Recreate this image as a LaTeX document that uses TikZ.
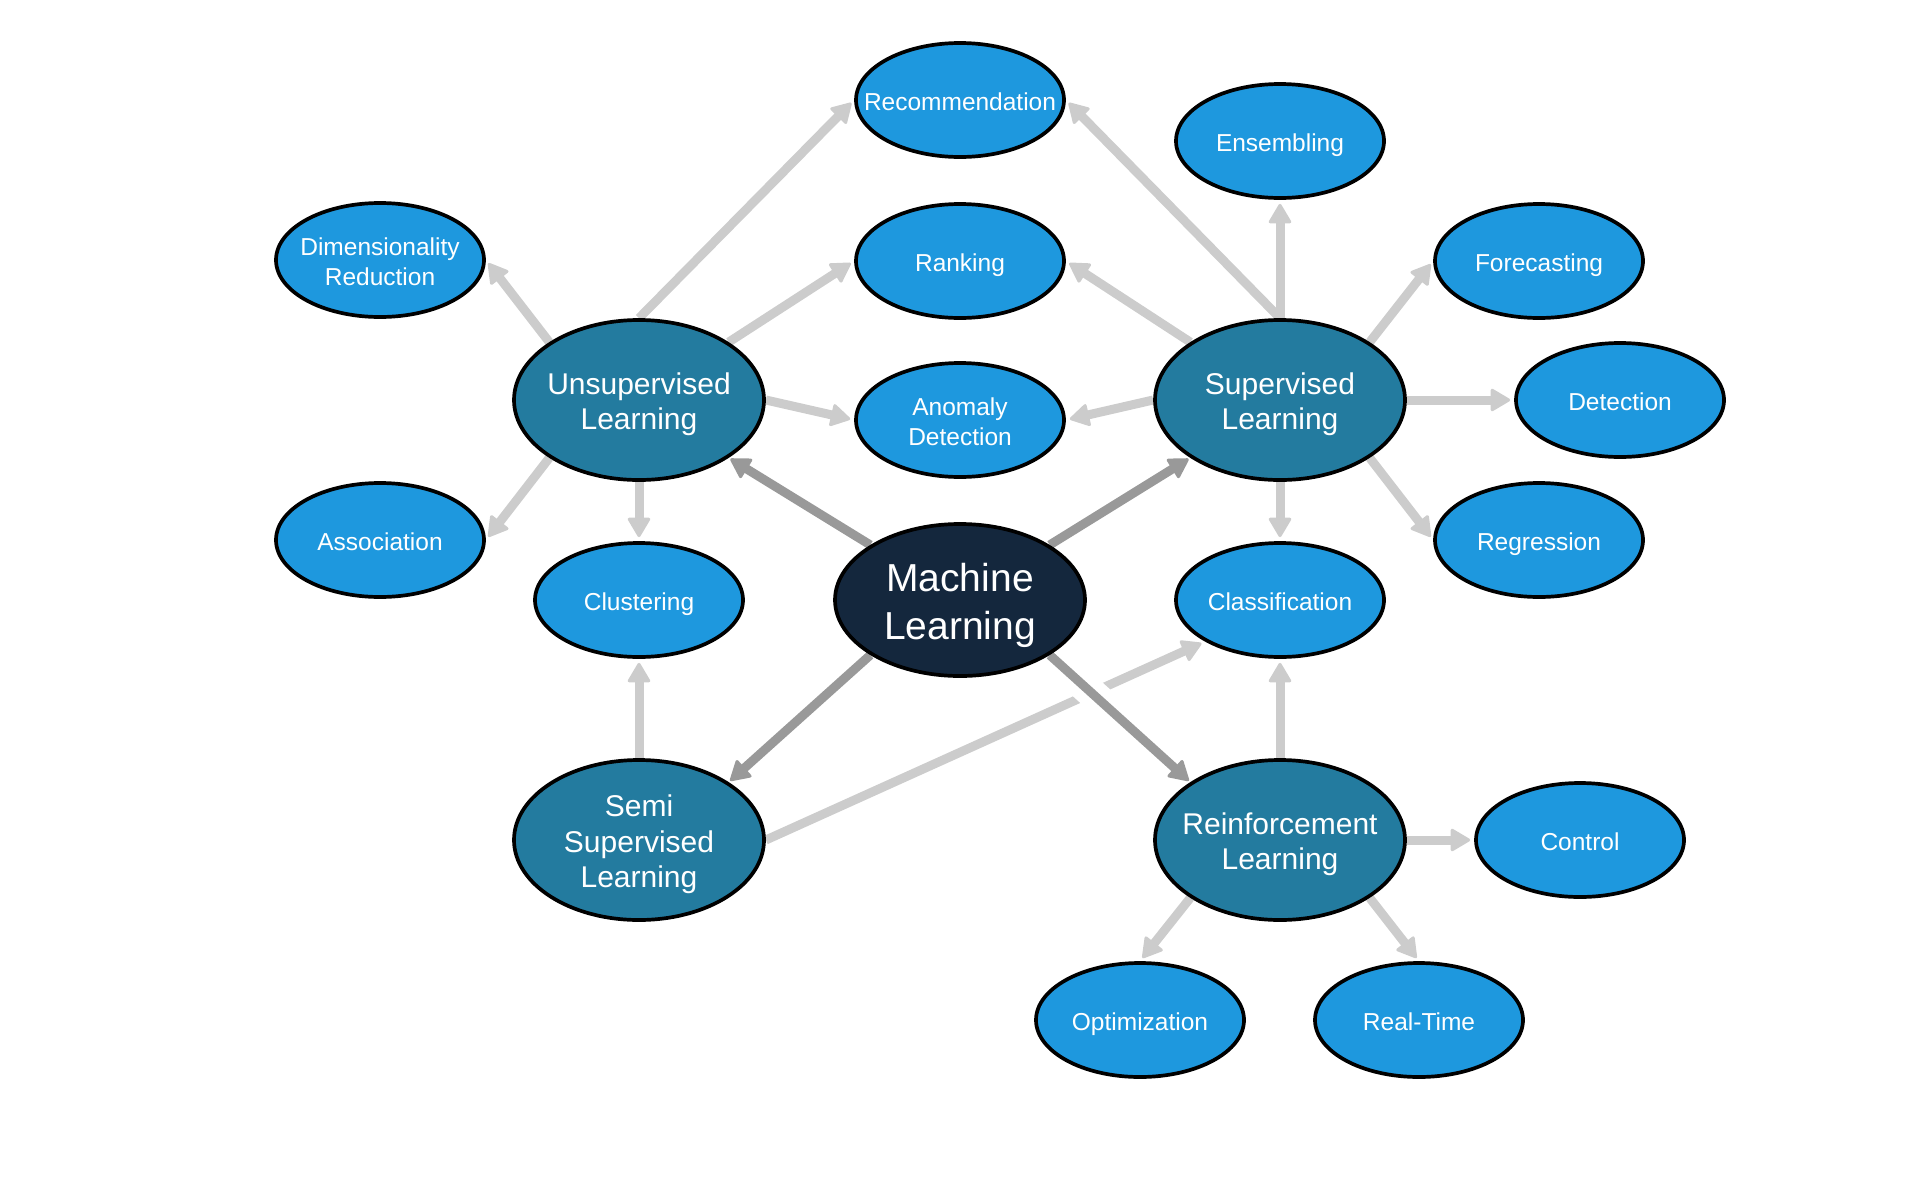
\documentclass[tikz,border=0pt]{standalone}
\usepackage{fontspec}
\setmainfont{Liberation Sans}
\usetikzlibrary{shapes.geometric,arrows.meta,backgrounds}
\definecolor{leafc}{HTML}{1E98DE}
\definecolor{midc}{HTML}{237B9F}
\definecolor{rootc}{HTML}{14273D}
\definecolor{lightedge}{HTML}{CCCCCC}
\definecolor{darkedge}{HTML}{999999}
\newcommand{\nt}[2][4.5pt]{\raisebox{-#1}[\height][\depth]{\begin{tabular}{@{}c@{}}#2\end{tabular}}}
\tikzset{
  base/.style={ellipse, draw=black, line width=3.7pt, text=white, inner xsep=-40pt, inner ysep=0pt, align=center},
  leaf/.style={base, fill=leafc, minimum width=208pt, minimum height=114pt, font=\fontsize{24.5}{29.4}\selectfont},
  mid/.style={base, fill=midc, minimum width=250pt, minimum height=160pt, font=\fontsize{30}{35.5}\selectfont},
  root/.style={base, fill=rootc, minimum width=250pt, minimum height=152pt, font=\fontsize{39}{48}\selectfont},
  ledge/.style={draw=lightedge, line width=9pt, -{Triangle[length=21pt,width=24pt,line width=3pt,round]}, shorten >=4pt},
  dedge/.style={draw=darkedge, line width=9pt, -{Triangle[length=21pt,width=24pt,line width=3pt,round]}, shorten >=2pt},
}
\begin{document}
\begin{tikzpicture}[x=1pt,y=-1pt]
\useasboundingbox (0,0) rectangle (1920,1200);
\node[root] (ML) at (960,600) {\nt[5.5pt]{Machine\\Learning}};
\node[mid] (U) at (639,400) {\nt[5pt]{Unsupervised\\Learning}};
\node[mid] (S) at (1280,400) {\nt[5pt]{Supervised\\Learning}};
\node[mid] (SSL) at (639,840) {\nt[5pt]{Semi\\Supervised\\Learning}};
\node[mid] (RL) at (1280,840) {\nt[5pt]{Reinforcement\\Learning}};
\node[leaf] (Rec) at (960,100) {\nt{Recommendation}};
\node[leaf] (Rank) at (960,261) {\nt{Ranking}};
\node[leaf] (Anom) at (960,420) {\nt{Anomaly\\Detection}};
\node[leaf] (Ens) at (1280,141) {\nt{Ensembling}};
\node[leaf] (Fore) at (1539,261) {\nt{Forecasting}};
\node[leaf] (Det) at (1620,400) {\nt{Detection}};
\node[leaf] (Reg) at (1539,540) {\nt{Regression}};
\node[leaf] (Cls) at (1280,600) {\nt{Classification}};
\node[leaf] (Dim) at (380,260) {\nt{Dimensionality\\Reduction}};
\node[leaf] (Assoc) at (380,540) {\nt{Association}};
\node[leaf] (Clu) at (639,600) {\nt{Clustering}};
\node[leaf] (Ctrl) at (1580,840) {\nt{Control}};
\node[leaf] (Opt) at (1140,1020) {\nt{Optimization}};
\node[leaf] (RT) at (1419,1020) {\nt{Real-Time}};
\begin{scope}[on background layer]
\draw[ledge] (U.north) -- (Rec.west);
\draw[ledge] (U.north east) -- (Rank.west);
\draw[ledge] (U.east) -- (Anom.west);
\draw[ledge] (U.north west) -- (Dim.east);
\draw[ledge] (U.south west) -- (Assoc.east);
\draw[ledge] (U.south) -- (Clu.north);
\draw[ledge] (S.north) -- (Rec.east);
\draw[ledge] (S.north) -- (Ens.south);
\draw[ledge] (S.north west) -- (Rank.east);
\draw[ledge] (S.west) -- (Anom.east);
\draw[ledge] (S.north east) -- (Fore.west);
\draw[ledge] (S.east) -- (Det.west);
\draw[ledge] (S.south east) -- (Reg.west);
\draw[ledge] (S.south) -- (Cls.north);
\draw[ledge] (SSL.north) -- (Clu.south);
\draw[ledge] (SSL.east) -- (Cls.south west);
\draw[ledge] (RL.north) -- (Cls.south);
\draw[ledge] (RL.east) -- (Ctrl.west);
\draw[ledge] (RL.south west) -- (Opt.north);
\draw[ledge] (RL.south east) -- (RT.north);
\draw[dedge] (ML.north west) -- (U.south east);
\draw[dedge] (ML.north east) -- (S.south west);
\draw[dedge] (ML.south west) -- (SSL.north east);
\draw[dedge, preaction={draw=white, line width=30pt, -}] (ML.south east) -- (RL.north west);
\end{scope}
\end{tikzpicture}
\end{document}
